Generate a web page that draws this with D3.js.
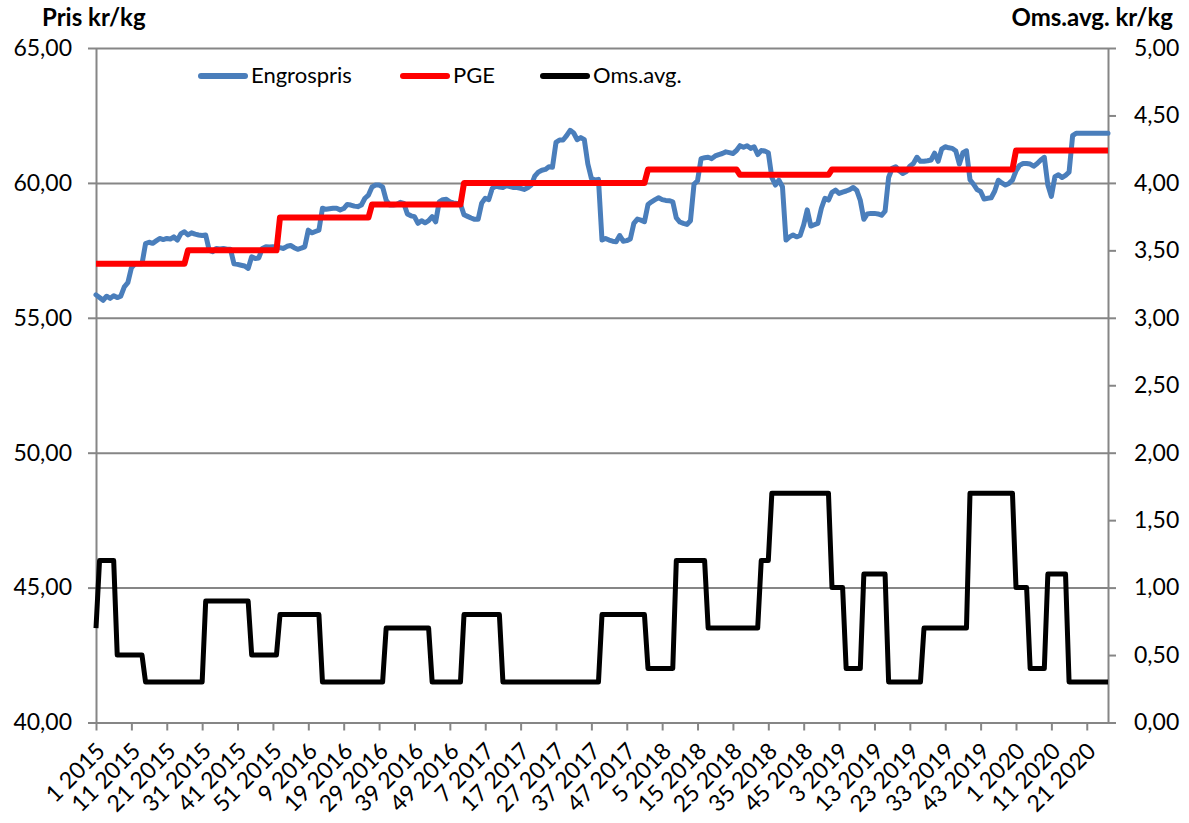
<!DOCTYPE html>
<html lang="no">
<head>
<meta charset="utf-8">
<script src="https://d3js.org/d3.v7.min.js"></script>
<style>
  body { margin: 0; background: #fff; }
  text { font-family: Lato, "Open Sans", sans-serif; fill: #000; }
  .axis path, .axis line { stroke: #868686; stroke-width: 2; }
  .grid line { stroke: #868686; stroke-width: 2; }
  .grid path { display: none; }
</style>
</head>
<body>
<svg id="chart" width="1189" height="823"></svg>
<script>
// weeks per year in the series (2020 runs to week 27)
var years = [2015, 2016, 2017, 2018, 2019, 2020];
var weeksInYear = [52, 52, 52, 52, 52, 27];

var tickLabels = ["1 2015", "11 2015", "21 2015", "31 2015", "41 2015", "51 2015",
  "9 2016", "19 2016", "29 2016", "39 2016", "49 2016",
  "7 2017", "17 2017", "27 2017", "37 2017", "47 2017",
  "5 2018", "15 2018", "25 2018", "35 2018", "45 2018",
  "3 2019", "13 2019", "23 2019", "33 2019", "43 2019",
  "1 2020", "11 2020", "21 2020"];

var leftTicks = [40, 45, 50, 55, 60, 65];
var rightTicks = [0, 0.5, 1, 1.5, 2, 2.5, 3, 3.5, 4, 4.5, 5];

// Engrospris, kr/kg (left axis)
var engrospris = [
  55.85,55.75,55.65,55.8,55.72,55.82,55.75,55.8,56.15,56.3,
  56.85,57.0,57.0,57.0,57.75,57.8,57.76,57.85,57.94,57.9,
  57.94,57.92,58.0,57.88,58.12,58.19,58.07,58.15,58.1,58.07,
  58.05,58.07,57.5,57.45,57.57,57.55,57.57,57.54,57.54,57.0,
  56.98,56.95,56.92,56.83,57.26,57.2,57.22,57.57,57.63,57.62,
  57.63,57.61,57.6,57.57,57.65,57.68,57.6,57.54,57.58,57.63,
  58.25,58.15,58.2,58.25,59.06,59.02,59.04,59.06,59.06,59.0,
  59.05,59.2,59.18,59.14,59.12,59.18,59.43,59.55,59.85,59.92,
  59.92,59.85,59.36,59.18,59.18,59.2,59.28,59.24,58.85,58.78,
  58.75,58.5,58.6,58.52,58.6,58.75,58.56,59.3,59.38,59.39,
  59.3,59.26,59.24,59.22,58.82,58.76,58.7,58.65,58.65,59.25,
  59.43,59.38,59.8,59.88,59.85,59.83,59.9,59.86,59.83,59.83,
  59.8,59.76,59.82,59.92,60.25,60.4,60.47,60.5,60.6,60.58,
  61.5,61.59,61.59,61.75,61.95,61.85,61.6,61.68,61.6,60.7,
  60.17,60.11,60.13,57.88,57.94,57.88,57.84,57.82,58.05,57.84,
  57.86,57.92,58.5,58.66,58.62,58.56,59.2,59.3,59.38,59.45,
  59.38,59.35,59.34,59.3,58.7,58.55,58.5,58.46,58.6,59.95,
  60.08,60.9,60.93,60.95,60.9,61.0,61.05,61.09,61.15,61.12,
  61.09,61.2,61.38,61.32,61.38,61.28,61.34,61.05,61.2,61.18,
  61.12,60.2,59.92,60.1,59.86,57.88,58.0,58.07,58.0,58.05,
  58.45,59.0,58.4,58.45,58.5,59.06,59.43,59.36,59.65,59.73,
  59.61,59.66,59.7,59.75,59.83,59.72,59.35,58.65,58.85,58.87,
  58.87,58.85,58.8,58.95,60.2,60.54,60.6,60.45,60.35,60.42,
  60.62,60.72,60.95,60.8,60.8,60.82,60.85,61.1,60.8,61.25,
  61.34,61.3,61.28,61.18,60.7,61.12,61.19,60.12,59.95,59.75,
  59.68,59.4,59.43,59.45,59.7,60.1,60.0,59.92,59.98,60.1,
  60.45,60.65,60.72,60.72,60.7,60.62,60.72,60.85,60.95,59.92,
  59.5,60.23,60.3,60.2,60.28,60.4,61.75,61.84,61.84,61.84,
  61.84,61.84,61.84,61.84,61.84,61.84,61.84
];

// PGE, kr/kg (left axis)
var pge = [
  57,57,57,57,57,57,57,57,57,57,
  57,57,57,57,57,57,57,57,57,57,
  57,57,57,57,57,57,57.5,57.5,57.5,57.5,
  57.5,57.5,57.5,57.5,57.5,57.5,57.5,57.5,57.5,57.5,
  57.5,57.5,57.5,57.5,57.5,57.5,57.5,57.5,57.5,57.5,
  57.5,57.5,58.72,58.72,58.72,58.72,58.72,58.72,58.72,58.72,
  58.72,58.72,58.72,58.72,58.72,58.72,58.72,58.72,58.72,58.72,
  58.72,58.72,58.72,58.72,58.72,58.72,58.72,58.72,59.2,59.2,
  59.2,59.2,59.2,59.2,59.2,59.2,59.2,59.2,59.2,59.2,
  59.2,59.2,59.2,59.2,59.2,59.2,59.2,59.2,59.2,59.2,
  59.2,59.2,59.2,59.2,60,60,60,60,60,60,
  60,60,60,60,60,60,60,60,60,60,
  60,60,60,60,60,60,60,60,60,60,
  60,60,60,60,60,60,60,60,60,60,
  60,60,60,60,60,60,60,60,60,60,
  60,60,60,60,60,60,60.5,60.5,60.5,60.5,
  60.5,60.5,60.5,60.5,60.5,60.5,60.5,60.5,60.5,60.5,
  60.5,60.5,60.5,60.5,60.5,60.5,60.5,60.5,60.5,60.5,
  60.5,60.5,60.3,60.3,60.3,60.3,60.3,60.3,60.3,60.3,
  60.3,60.3,60.3,60.3,60.3,60.3,60.3,60.3,60.3,60.3,
  60.3,60.3,60.3,60.3,60.3,60.3,60.3,60.3,60.5,60.5,
  60.5,60.5,60.5,60.5,60.5,60.5,60.5,60.5,60.5,60.5,
  60.5,60.5,60.5,60.5,60.5,60.5,60.5,60.5,60.5,60.5,
  60.5,60.5,60.5,60.5,60.5,60.5,60.5,60.5,60.5,60.5,
  60.5,60.5,60.5,60.5,60.5,60.5,60.5,60.5,60.5,60.5,
  60.5,60.5,60.5,60.5,60.5,60.5,60.5,60.5,60.5,60.5,
  61.2,61.2,61.2,61.2,61.2,61.2,61.2,61.2,61.2,61.2,
  61.2,61.2,61.2,61.2,61.2,61.2,61.2,61.2,61.2,61.2,
  61.2,61.2,61.2,61.2,61.2,61.2,61.2
];

// Oms.avg., kr/kg (right axis)
var omsAvg = [
  0.7,1.2,1.2,1.2,1.2,1.2,0.5,0.5,0.5,0.5,
  0.5,0.5,0.5,0.5,0.3,0.3,0.3,0.3,0.3,0.3,
  0.3,0.3,0.3,0.3,0.3,0.3,0.3,0.3,0.3,0.3,
  0.3,0.9,0.9,0.9,0.9,0.9,0.9,0.9,0.9,0.9,
  0.9,0.9,0.9,0.9,0.5,0.5,0.5,0.5,0.5,0.5,
  0.5,0.5,0.8,0.8,0.8,0.8,0.8,0.8,0.8,0.8,
  0.8,0.8,0.8,0.8,0.3,0.3,0.3,0.3,0.3,0.3,
  0.3,0.3,0.3,0.3,0.3,0.3,0.3,0.3,0.3,0.3,
  0.3,0.3,0.7,0.7,0.7,0.7,0.7,0.7,0.7,0.7,
  0.7,0.7,0.7,0.7,0.7,0.3,0.3,0.3,0.3,0.3,
  0.3,0.3,0.3,0.3,0.8,0.8,0.8,0.8,0.8,0.8,
  0.8,0.8,0.8,0.8,0.8,0.3,0.3,0.3,0.3,0.3,
  0.3,0.3,0.3,0.3,0.3,0.3,0.3,0.3,0.3,0.3,
  0.3,0.3,0.3,0.3,0.3,0.3,0.3,0.3,0.3,0.3,
  0.3,0.3,0.3,0.8,0.8,0.8,0.8,0.8,0.8,0.8,
  0.8,0.8,0.8,0.8,0.8,0.8,0.4,0.4,0.4,0.4,
  0.4,0.4,0.4,0.4,1.2,1.2,1.2,1.2,1.2,1.2,
  1.2,1.2,1.2,0.7,0.7,0.7,0.7,0.7,0.7,0.7,
  0.7,0.7,0.7,0.7,0.7,0.7,0.7,0.7,1.2,1.2,
  1.2,1.7,1.7,1.7,1.7,1.7,1.7,1.7,1.7,1.7,
  1.7,1.7,1.7,1.7,1.7,1.7,1.7,1.7,1.0,1.0,
  1.0,1.0,0.4,0.4,0.4,0.4,0.4,1.1,1.1,1.1,
  1.1,1.1,1.1,1.1,0.3,0.3,0.3,0.3,0.3,0.3,
  0.3,0.3,0.3,0.3,0.7,0.7,0.7,0.7,0.7,0.7,
  0.7,0.7,0.7,0.7,0.7,0.7,0.7,1.7,1.7,1.7,
  1.7,1.7,1.7,1.7,1.7,1.7,1.7,1.7,1.7,1.7,
  1.0,1.0,1.0,1.0,0.4,0.4,0.4,0.4,0.4,1.1,
  1.1,1.1,1.1,1.1,1.1,0.3,0.3,0.3,0.3,0.3,
  0.3,0.3,0.3,0.3,0.3,0.3,0.3
];

// category labels "week year"
var categories = [];
years.forEach(function(yr, k) {
  for (var w = 1; w <= weeksInYear[k]; w++) categories.push(w + " " + yr);
});

var svg = d3.select("#chart");
var plotLeft = 96, plotRight = 1108, plotTop = 48, plotBottom = 722.5;

var nb = d3.formatLocale({ decimal: ",", thousands: " ", grouping: [3], currency: ["", " kr"] });
var fmt = nb.format(".2f");

var x = d3.scalePoint().domain(categories).range([plotLeft, plotRight]);
var yL = d3.scaleLinear().domain([40, 65]).range([plotBottom, plotTop]);
var yR = d3.scaleLinear().domain([0, 5]).range([plotBottom, plotTop]);

// horizontal gridlines
svg.append("g")
  .attr("class", "grid")
  .attr("transform", "translate(" + plotLeft + ",0)")
  .call(d3.axisLeft(yL).tickValues(leftTicks.slice(1)).tickSize(-(plotRight - plotLeft)).tickFormat(""));

// left axis
var gl = svg.append("g")
  .attr("class", "axis")
  .attr("transform", "translate(" + plotLeft + ",0)")
  .call(d3.axisLeft(yL).tickValues(leftTicks).tickSize(8).tickSizeOuter(0).tickPadding(16).tickFormat(fmt));
gl.selectAll("text").style("font-size", "23px");

// right axis
var gr = svg.append("g")
  .attr("class", "axis")
  .attr("transform", "translate(" + plotRight + ",0)")
  .call(d3.axisRight(yR).tickValues(rightTicks).tickSize(8).tickSizeOuter(0).tickPadding(18).tickFormat(fmt));
gr.selectAll("text").style("font-size", "23px");

// bottom axis
var gb = svg.append("g")
  .attr("class", "axis")
  .attr("transform", "translate(0," + plotBottom + ")")
  .call(d3.axisBottom(x).tickValues(tickLabels).tickSize(8).tickSizeOuter(0));
gb.selectAll("text")
  .style("font-size", "23px")
  .attr("text-anchor", "end")
  .attr("y", 0)
  .attr("dy", 0)
  .attr("transform", "translate(10,30) rotate(-45)");

// series
var lineL = d3.line().x(function(d, i) { return x(categories[i]); }).y(function(d) { return yL(d); });
var lineR = d3.line().x(function(d, i) { return x(categories[i]); }).y(function(d) { return yR(d); });

svg.append("path").datum(engrospris)
  .attr("d", lineL).attr("fill", "none")
  .attr("stroke", "#4a7ebb").attr("stroke-width", 5)
  .attr("stroke-linejoin", "round").attr("stroke-linecap", "round");

svg.append("path").datum(pge)
  .attr("d", lineL).attr("fill", "none")
  .attr("stroke", "#ff0000").attr("stroke-width", 6)
  .attr("stroke-linejoin", "round");

svg.append("path").datum(omsAvg)
  .attr("d", lineR).attr("fill", "none")
  .attr("stroke", "#000").attr("stroke-width", 5)
  .attr("stroke-linejoin", "round");

// axis titles
svg.append("text").attr("x", 42).attr("y", 26)
  .style("font-size", "24px").style("font-weight", "bold")
  .text("Pris kr/kg");
svg.append("text").attr("x", 1173).attr("y", 26).attr("text-anchor", "end")
  .style("font-size", "24px").style("font-weight", "bold")
  .text("Oms.avg. kr/kg");

// legend
var legend = [
  { name: "Engrospris", color: "#4a7ebb", x: 198 },
  { name: "PGE", color: "#ff0000", x: 400 },
  { name: "Oms.avg.", color: "#000", x: 540 }
];
var lg = svg.append("g");
legend.forEach(function(l) {
  lg.append("line").attr("x1", l.x + 3).attr("x2", l.x + 47)
    .attr("y1", 76).attr("y2", 76)
    .attr("stroke", l.color).attr("stroke-width", 6).attr("stroke-linecap", "round");
  lg.append("text").attr("x", l.x + 53).attr("y", 83)
    .style("font-size", "22px").text(l.name);
});
</script>
</body>
</html>
